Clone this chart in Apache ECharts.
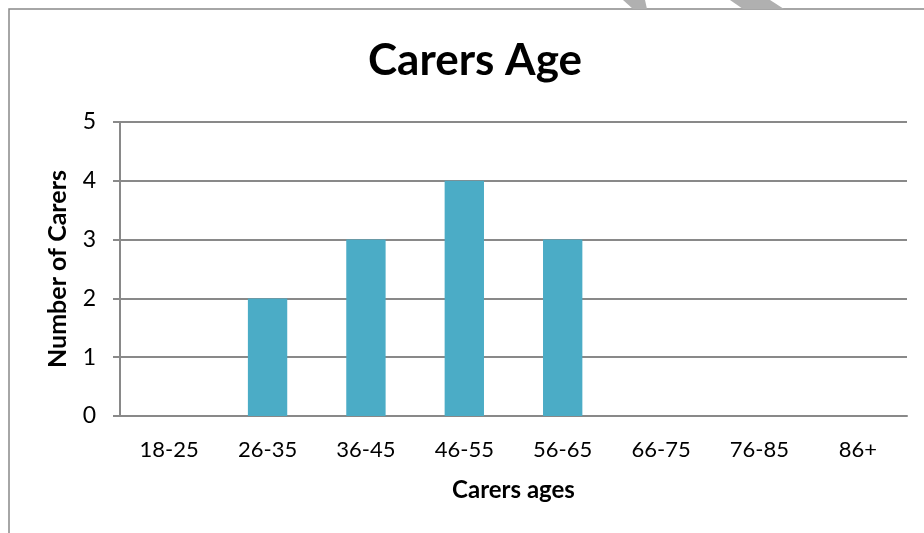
<!DOCTYPE html>
<html>
<head>
<meta charset="utf-8">
<script src="https://cdn.jsdelivr.net/npm/echarts@6/dist/echarts.min.js"></script>
<style>html,body{margin:0;padding:0;background:#fff;}#c{width:924px;height:533px;}</style>
</head>
<body>
<div id="c"></div>
<script>
const categories = ['18-25', '26-35', '36-45', '46-55', '56-65', '66-75', '76-85', '86+'];
const carers = [0, 2, 3, 4, 3, 0, 0, 0];
const yTicks = [0, 1, 2, 3, 4, 5];

const FONT = 'Lato';
const GRAY = '#898989';
const chart = echarts.init(document.getElementById('c'), null, {renderer: 'canvas'});
chart.setOption({
  animation: false,
  backgroundColor: '#fff',
  title: {
    text: 'Carers Age',
    left: 470,
    top: 34,
    textAlign: 'center',
    textStyle: {fontFamily: FONT, fontWeight: 'bold', fontSize: 44, color: '#000'}
  },
  grid: {left: 120, right: 17, top: 122, bottom: 117, containLabel: false},
  xAxis: {
    type: 'category',
    data: categories,
    name: 'Carers ages',
    nameLocation: 'middle',
    nameGap: 62,
    nameTextStyle: {fontFamily: FONT, fontWeight: 'bold', fontSize: 24, color: '#000', verticalAlign: 'top'},
    axisLine: {show: true, lineStyle: {color: GRAY, width: 2}},
    axisTick: {show: false},
    axisLabel: {fontFamily: FONT, fontSize: 22, color: '#000', margin: 23}
  },
  yAxis: {
    type: 'value',
    min: yTicks[0],
    max: yTicks[yTicks.length - 1],
    interval: 1,
    name: 'Number of Carers',
    nameLocation: 'middle',
    nameGap: 50,
    nameRotate: 90,
    nameTextStyle: {fontFamily: FONT, fontWeight: 'bold', fontSize: 25, color: '#000'},
    axisLine: {show: true, lineStyle: {color: GRAY, width: 2}},
    axisTick: {show: true, length: 7, lineStyle: {color: GRAY, width: 2}},
    axisLabel: {fontFamily: FONT, fontSize: 23, color: '#000', margin: 24},
    splitLine: {show: true, lineStyle: {color: GRAY, width: 2}}
  },
  series: [{
    type: 'bar',
    data: carers,
    barWidth: '40%',
    itemStyle: {color: '#4BACC6'}
  }],
  graphic: [
    {type: 'rect', shape: {x: 9, y: 9, width: 940, height: 600}, style: {fill: null, stroke: GRAY, lineWidth: 1.5}, silent: true, z: -1},
    {type: 'polygon', shape: {points: [[623, 0], [645, 0], [647, 9], [633, 9]]}, style: {fill: '#b0b0b0'}, silent: true},
    {type: 'polygon', shape: {points: [[730, 0], [770, 0], [784, 9], [743, 9]]}, style: {fill: '#b0b0b0'}, silent: true}
  ]
});
</script>
</body>
</html>
